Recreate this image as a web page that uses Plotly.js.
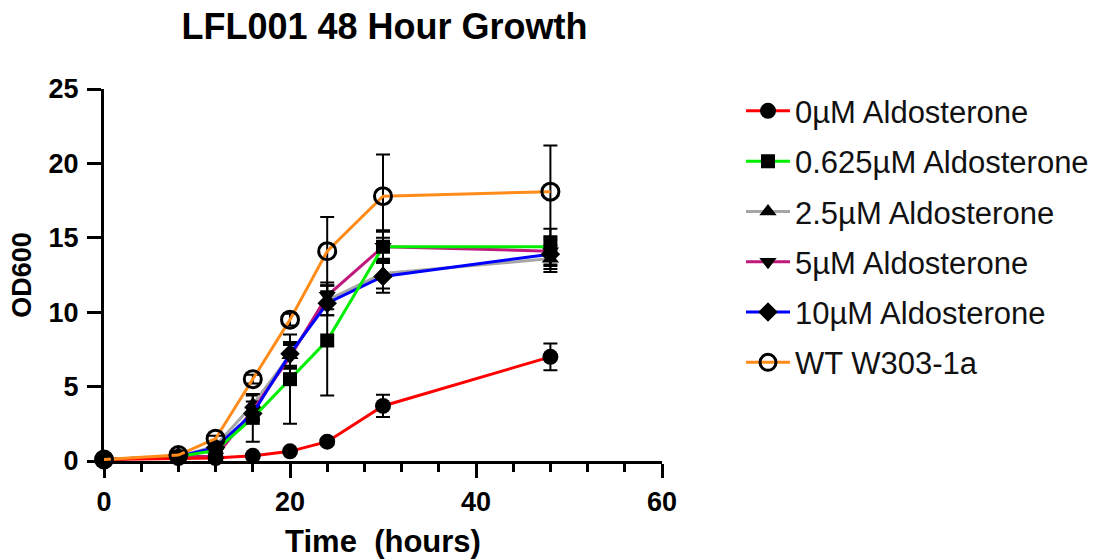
<!DOCTYPE html>
<html>
<head>
<meta charset="utf-8">
<script src="https://cdn.plot.ly/plotly-3.0.1.min.js"></script>
<style>html,body{margin:0;padding:0;background:#fff;}#chart{width:1108px;height:560px;}</style>
</head>
<body>
<div id="chart"></div>
<script>
const time = [0, 8, 12, 16, 20, 24, 30, 48];
const seriesNames = ["0\u00b5M Aldosterone", "0.625\u00b5M Aldosterone", "2.5\u00b5M Aldosterone", "5\u00b5M Aldosterone", "10\u00b5M Aldosterone", "WT W303-1a"];
const od_0     = [0.1, 0.2, 0.2, 0.35, 0.65, 1.3, 3.7, 7.0];
const err_0    = [0, 0.05, 0.05, 0.1, 0.15, 0.2, 0.75, 0.9];
const od_0625  = [0.1, 0.3, 0.7, 2.9, 5.5, 8.1, 14.4, 14.4];
const err_0625 = [0, 0.1, 0.4, 1.6, 3.0, 3.7, 1.1, 1.2];
const od_25    = [0.1, 0.3, 1.0, 3.8, 7.1, 10.8, 12.6, 13.6];
const err_25   = [0, 0.1, 0.3, 0.6, 0.8, 1.0, 1.0, 0.9];
const od_5     = [0.1, 0.3, 0.3, 3.4, 7.0, 11.1, 14.4, 14.1];
const err_5    = [0, 0.1, 0.3, 0.6, 0.8, 0.9, 1.0, 1.0];
const od_10    = [0.1, 0.3, 0.9, 3.2, 7.2, 10.6, 12.4, 13.9];
const err_10   = [0, 0.1, 0.3, 0.5, 0.8, 0.8, 1.1, 1.0];
const od_wt    = [0.1, 0.4, 1.5, 5.5, 9.5, 14.1, 17.8, 18.1];
const err_wt   = [0, 0.1, 0.2, 0.3, 0.4, 2.3, 2.8, 3.1];

const FONT = "Liberation Sans, Arial, sans-serif";

function mk(idx, y, err, color, symbol, size, rank, open) {
  const marker = {symbol: symbol, size: size, color: "#000"};
  if (open) { marker.line = {width: 3, color: "#000"}; }
  return {
    x: time, y: y, name: seriesNames[idx], type: "scatter", mode: "lines+markers",
    line: {color: color, width: 3},
    marker: marker,
    error_y: {type: "data", array: err, visible: true, color: "#000", thickness: 2, width: 7},
    legendrank: rank, legendgroup: "g" + idx, cliponaxis: false
  };
}

const data = [
  mk(2, od_25, err_25, "#a6a6a6", "triangle-up", 15, 3),
  mk(3, od_5, err_5, "#c0187c", "triangle-down", 15, 4),
  mk(4, od_10, err_10, "#0000ff", "diamond", 15, 5),
  mk(1, od_0625, err_0625, "#00ee00", "square", 14, 2),
  mk(0, od_0, err_0, "#ff0000", "circle", 16, 1),
  mk(5, od_wt, err_wt, "#ff8c1a", "circle-open", 17, 6, true)
];

const layout = {
  width: 1108, height: 560,
  margin: {l: 104, r: 446, t: 89, b: 99},
  paper_bgcolor: "#fff", plot_bgcolor: "#fff",
  font: {family: FONT, color: "#000"},
  title: {text: "<b>LFL001 48 Hour Growth</b>", font: {family: FONT, size: 36, color: "#000"},
          x: 0.347, xref: "container", xanchor: "center", y: 0.952, yref: "container", yanchor: "middle"},
  xaxis: {
    range: [0, 60], tickvals: [0, 20, 40, 60], ticks: "outside", ticklen: 14, tickwidth: 3,
    tickcolor: "#000", showline: true, linewidth: 3, linecolor: "#000", showgrid: false, zeroline: false,
    tickfont: {family: FONT, size: 27, weight: "bold", color: "#000"}, ticklabelstandoff: 1,
    minor: {dtick: 4, tick0: 0, ticks: "outside", ticklen: 8, tickwidth: 3, tickcolor: "#000", showgrid: false},
    title: {text: "<b>Time\u00a0 (hours)</b>", font: {family: FONT, size: 31, color: "#000"}, standoff: 14}
  },
  yaxis: {
    range: [0, 25], tickvals: [0, 5, 10, 15, 20, 25], ticks: "outside", ticklen: 14, tickwidth: 3,
    tickcolor: "#000", showline: true, linewidth: 3, linecolor: "#000", showgrid: false, zeroline: false,
    tickfont: {family: FONT, size: 27, weight: "bold", color: "#000"}, ticklabelstandoff: 3,
    title: {text: "<b>OD600</b>", font: {family: FONT, size: 27, color: "#000"}, standoff: 10}
  },
  showlegend: true,
  legend: {
    x: 741 / 1108, xref: "container", xanchor: "left", y: 0.8496, yref: "container", yanchor: "top",
    font: {family: FONT, size: 31, color: "#111"}, tracegroupgap: 7, itemwidth: 44, maxheight: 1,
    bgcolor: "rgba(0,0,0,0)"
  }
};

Plotly.newPlot("chart", data, layout, {displayModeBar: false, staticPlot: true});
</script>
</body>
</html>
